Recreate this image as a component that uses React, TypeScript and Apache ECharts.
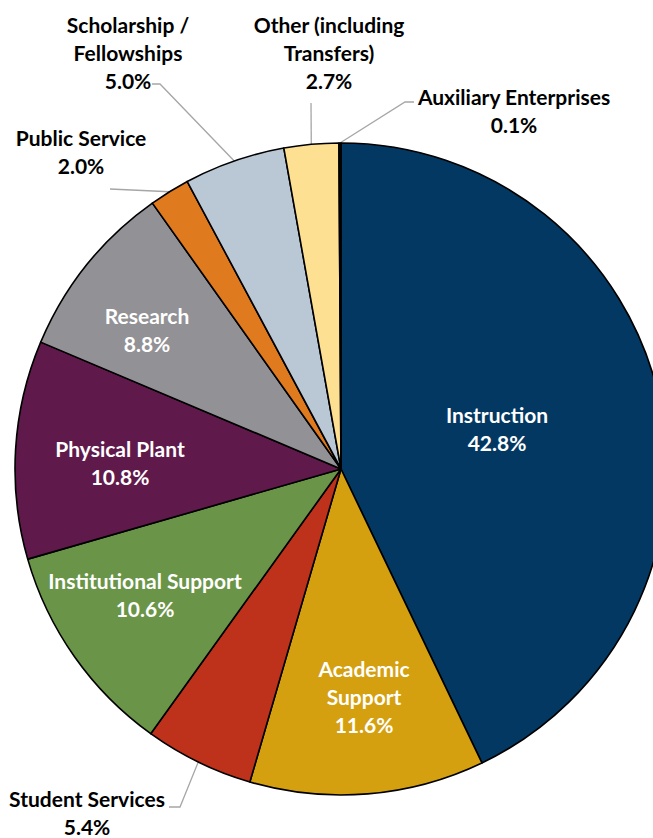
import React, { useEffect, useRef } from 'react';
import * as echarts from 'echarts';

const categories = [
  'Instruction',
  'Academic Support',
  'Student Services',
  'Institutional Support',
  'Physical Plant',
  'Research',
  'Public Service',
  'Scholarship / Fellowships',
  'Other (including Transfers)',
  'Auxiliary Enterprises',
];
const labelTexts = [
  'Instruction',
  'Academic\nSupport',
  'Student Services',
  'Institutional Support',
  'Physical Plant',
  'Research',
  'Public Service',
  'Scholarship /\nFellowships',
  'Other (including\nTransfers)',
  'Auxiliary Enterprises',
];
const values = [42.8, 11.6, 5.4, 10.6, 10.8, 8.8, 2.0, 5.0, 2.7, 0.1];
const colors = [
  '#033862',
  '#D5A010',
  '#BE311B',
  '#6A9447',
  '#5F1A4B',
  '#929195',
  '#DF7A1E',
  '#BAC8D6',
  '#FEE092',
  '#111111',
];
const insideLabel = [true, true, false, true, true, true, false, false, false, false];

// ---- layout (page pixels) ----
const CENTER = [341, 469];
const RADIUS = 326;
const labelPositions: number[][] = [
  [497, 428],
  [364, 696],
  [87, 812],
  [145, 594],
  [120, 462],
  [147, 329],
  [81, 151],
  [128, 52],
  [329, 52],
  [514, 110],
];
// leader-line points after the slice anchor (elbow / end next to the label)
const leaderTails: (number[][] | null)[] = [
  null,
  null,
  [[180, 807], [169, 807]],
  null,
  null,
  null,
  [[110, 189]],
  [[160, 84], [152, 84]],
  [[311, 103]],
  [[405, 102], [414, 102]],
];

const total = values.reduce((a, b) => a + b, 0);
function arcMidPoint(i: number) {
  let before = 0;
  for (let k = 0; k < i; k++) before += values[k];
  const frac = (before + values[i] / 2) / total;
  const ang = frac * Math.PI * 2; // clockwise from 12 o'clock
  return [CENTER[0] + RADIUS * Math.sin(ang), CENTER[1] - RADIUS * Math.cos(ang)];
}

export default function App() {
  const ref = useRef<HTMLDivElement>(null);
  useEffect(() => {
    const chart = echarts.init(ref.current!, null, { renderer: 'svg' });
    const data = categories.map((name, i) => ({
      name,
      value: values[i],
      itemStyle: { color: colors[i] },
      label: {
        position: insideLabel[i] ? 'inside' : 'outside',
        color: insideLabel[i] ? '#ffffff' : '#000000',
      },
      labelLine: { show: !insideLabel[i] },
    }));
    chart.setOption({
      animation: false,
      backgroundColor: '#ffffff',
      series: [
        {
          type: 'pie',
          center: CENTER,
          radius: RADIUS,
          startAngle: 90,
          clockwise: true,
          avoidLabelOverlap: false,
          minShowLabelAngle: 0,
          silent: true,
          itemStyle: { borderColor: '#000000', borderWidth: 1.6 },
          label: {
            show: true,
            fontFamily: 'Lato',
            fontWeight: 'bold',
            fontSize: 21,
            lineHeight: 28,
            align: 'center',
            formatter: (p: any) =>
              `${labelTexts[p.dataIndex]}\n${values[p.dataIndex].toFixed(1)}%`,
          },
          labelLine: {
            length: 10,
            length2: 10,
            lineStyle: { color: '#A6A6A6', width: 1.3 },
          },
          labelLayout: (p: any) => {
            const i = p.dataIndex;
            const pos = labelPositions[i];
            const res: any = { x: pos[0], y: pos[1], align: 'center', verticalAlign: 'middle' };
            const tail = leaderTails[i];
            if (tail) res.labelLinePoints = [arcMidPoint(i), ...tail];
            return res;
          },
          emphasis: { disabled: true },
          data,
        },
      ],
    });
    return () => chart.dispose();
  }, []);
  return (
    <div
      ref={ref}
      style={{ position: 'absolute', left: 0, top: 0, width: 653, height: 838 }}
    />
  );
}
